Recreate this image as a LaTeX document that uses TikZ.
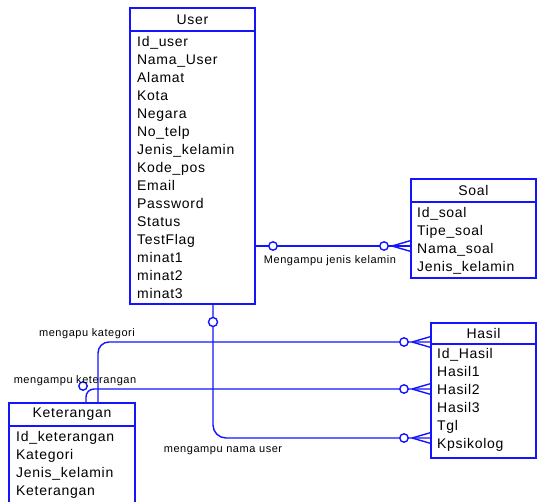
\documentclass[tikz,border=0pt]{standalone}
\usepackage{fontspec}
\setmainfont{Liberation Sans}
\newfontfamily\rowfont[LetterSpace=5]{Liberation Sans}
\newfontfamily\lblfont[LetterSpace=5]{Liberation Sans}
\definecolor{erblue}{RGB}{20,20,255}

\begin{document}
\begin{tikzpicture}[x=1pt,y=-1pt,
  line/.style={draw=erblue, line width=1.4pt},
  hdr/.style={line, anchor=north west, inner sep=0, outer sep=0, font=\rowfont\fontsize{14}{18}\selectfont},
  ebody/.style={line, anchor=north west, inner sep=0, outer sep=0},
  rows/.style={anchor=north west, inner sep=0, align=left, font=\rowfont\fontsize{14}{18}\selectfont},
  lbl/.style={inner sep=0, font=\lblfont\fontsize{11}{13}\selectfont},
  rel/.style={line, rounded corners=11pt},
  optcircle/.style={line, fill=white},
  crowfoot/.pic={
    \draw[line] (-19,0) -- (0,-5.5);
    \draw[line] (-19,0) -- (0,5.5);
    \draw[optcircle] (-27,0) circle (4.2);
  }
]
\useasboundingbox (0,0) rectangle (537,502);
\clip (0,0) rectangle (537,502);

% ---- User ----
\node[hdr, minimum width=125, minimum height=23] (userh) at (130,8) {User};
\node[ebody, minimum width=125, minimum height=273] (userb) at (userh.south west) {};
\node[rows] (usert) at ([shift={(7,2.5)}]userb.north west)
  {\strut Id\_user\\\strut Nama\_User\\\strut Alamat\\\strut Kota\\\strut Negara\\\strut No\_telp\\\strut Jenis\_kelamin\\\strut Kode\_pos\\\strut Email\\\strut Password\\\strut Status\\\strut TestFlag\\\strut minat1\\\strut minat2\\\strut minat3};

% ---- Soal ----
\node[hdr, minimum width=125, minimum height=23] (soalh) at (411,179) {Soal};
\node[ebody, minimum width=125, minimum height=76] (soalb) at (soalh.south west) {};
\node[rows] (soalt) at ([shift={(6,2.5)}]soalb.north west)
  {\strut Id\_soal\\\strut Tipe\_soal\\\strut Nama\_soal\\\strut Jenis\_kelamin};

% ---- Hasil ----
\node[hdr, minimum width=105, minimum height=21] (hasilh) at (431,323) {Hasil};
\node[ebody, minimum width=105, minimum height=114] (hasilb) at (hasilh.south west) {};
\node[rows] (hasilt) at ([shift={(6,1.5)}]hasilb.north west)
  {\strut Id\_Hasil\\\strut Hasil1\\\strut Hasil2\\\strut Hasil3\\\strut Tgl\\\strut Kpsikolog};

% ---- Keterangan ----
\node[hdr, minimum width=126, minimum height=23] (keth) at (9,403) {Keterangan};
\node[ebody, minimum width=126, minimum height=110] (ketb) at (keth.south west) {};
\node[rows] (kett) at ([shift={(7,2.5)}]ketb.north west)
  {\strut Id\_keterangan\\\strut Kategori\\\strut Jenis\_kelamin\\\strut Keterangan};

% ---- connector end points ----
\coordinate (us) at ([yshift=-215]userh.south east);
\coordinate (se) at ([yshift=-44]soalb.north west);
\coordinate (ub) at ([xshift=20.5]userb.south);
\coordinate (k1) at ([xshift=89]keth.north west);
\coordinate (k2) at ([xshift=77]keth.north west);
\coordinate (h1) at ([yshift=-19]hasilh.north west);
\coordinate (h2) at ([yshift=-45]hasilb.north west);
\coordinate (h3) at ([yshift=-94]hasilb.north west);

% ---- relationships ----
\draw[line] (us) -- (se);
\draw[rel] (k1) |- (h1);
\draw[rel, rounded corners=8pt] (k2) |- (h2);
\draw[rel, rounded corners=13pt] (ub) |- (h3);

\draw[optcircle] ([xshift=18]us) circle (4.2);
\draw[optcircle] ([yshift=-18]ub) circle (4.5);
\draw[optcircle] ([shift={(-3,-17)}]k2) circle (4.2);

\pic at (se) {crowfoot};
\pic at (h1) {crowfoot};
\pic at (h2) {crowfoot};
\pic at (h3) {crowfoot};

% ---- labels ----
\node[lbl] (l1) at (330,261) {Mengampu jenis kelamin};
\node[lbl] (l2) at (87,334) {mengapu kategori};
\node[lbl] (l3) at (75,381) {mengampu keterangan};
\node[lbl] (l4) at (223,451) {mengampu nama user};
\end{tikzpicture}
\end{document}
